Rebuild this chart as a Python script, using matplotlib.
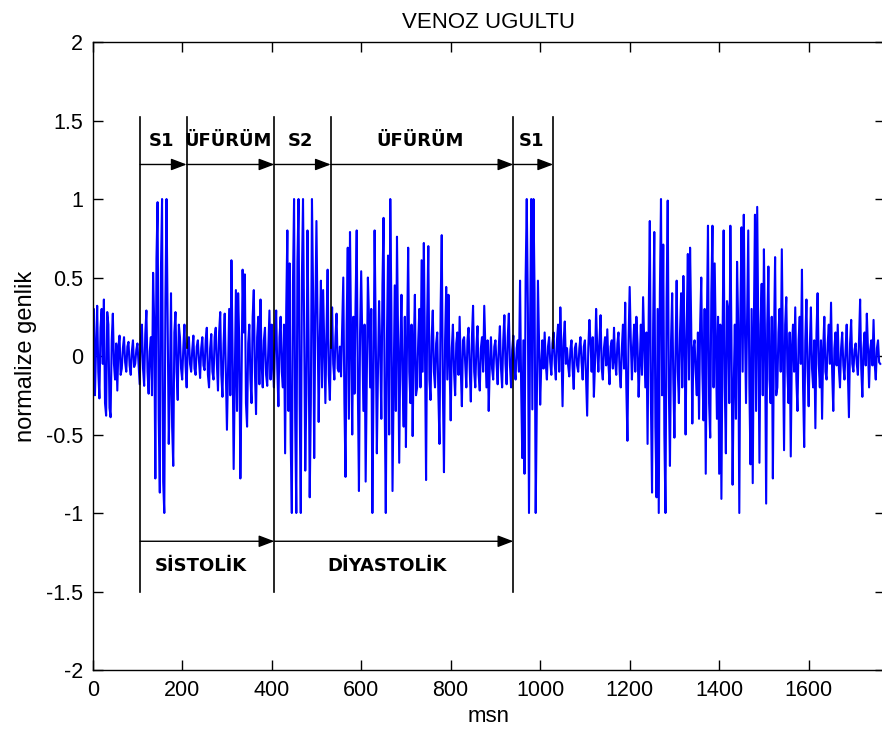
import matplotlib
matplotlib.use("Agg")
import matplotlib.pyplot as plt
import numpy as np
from matplotlib.ticker import FuncFormatter

# heart sound, one sample every 2.5 msn (rows of 100 msn)
STEP_MS = 2.5
signal = [
    0.10, 0.30, -0.25, 0.05, 0.32, -0.10, -0.27, 0.18, 0.30, -0.05, 0.36, -0.30, -0.38, 0.28, 0.20, -0.33, -0.39, 0.10, 0.27, -0.05,
    -0.15, 0.08, -0.22, 0.06, 0.13, -0.12, -0.08, 0.05, 0.12, -0.04, -0.10, 0.06, 0.09, -0.06, -0.12, 0.03, 0.10, -0.07, -0.05, 0.04,
    0.08, -0.05, -0.18, 0.10, 0.20, -0.08, -0.19, 0.14, 0.29, -0.10, -0.24, 0.03, 0.12, -0.25, 0.53, 0.20, -0.78, 0.62, 0.98, -0.40,
    -0.87, 0.55, 1.00, -0.80, -1.00, 0.35, 1.00, 0.25, -0.56, -0.20, 0.40, -0.45, -0.70, 0.15, 0.28, -0.10, -0.28, 0.20, 0.12, -0.08,
    -0.15, 0.05, 0.20, -0.06, -0.20, 0.08, 0.12, -0.05, -0.10, 0.04, 0.13, -0.08, -0.12, 0.06, 0.10, -0.03, -0.14, 0.05, 0.12, -0.06,
    -0.09, 0.10, 0.18, -0.12, -0.20, 0.05, 0.14, -0.10, -0.15, 0.12, 0.18, -0.05, -0.22, 0.15, 0.28, -0.12, -0.26, 0.08, 0.27, -0.10,
    -0.47, -0.10, 0.30, -0.25, 0.61, 0.05, -0.72, -0.15, 0.42, -0.35, 0.40, 0.10, -0.78, -0.20, 0.55, 0.15, 0.52, -0.30, -0.45, 0.08,
    0.20, -0.15, -0.30, 0.25, 0.42, -0.10, -0.37, 0.12, 0.25, -0.18, 0.36, -0.05, -0.20, 0.10, 0.18, -0.12, -0.19, 0.05, 0.29, -0.15,
    0.20, -0.05, -0.20, 0.10, 0.29, -0.08, -0.32, 0.12, 0.25, -0.10, -0.20, 0.20, -0.62, 0.30, 0.80, -0.35, 0.59, -0.55, -1.00, 0.45,
    1.00, -0.40, -1.00, 0.60, 1.00, -0.30, -1.00, 0.50, 1.00, 0.20, -0.73, -0.25, 0.80, 0.10, -0.90, -0.30, 1.00, 0.40, -0.65, 0.25,
    0.86, 0.20, -0.42, 0.10, 0.48, -0.20, 0.42, 0.05, -0.30, 0.15, 0.55, -0.12, -0.28, 0.10, 0.31, -0.05, -0.15, 0.12, 0.27, -0.08,
    -0.10, 0.06, -0.13, 0.20, 0.50, -0.30, -0.77, 0.20, 0.69, -0.40, 0.79, 0.10, -0.50, 0.25, -0.24, 0.35, 0.80, -0.20, -0.86, 0.15,
    0.54, 0.10, -0.35, 0.20, -0.80, -0.15, 0.50, 0.25, -0.20, 0.30, -1.00, -0.20, 0.80, 0.15, -0.62, -0.10, 0.35, 0.05, -0.40, 0.45,
    0.88, -0.30, -1.00, 0.10, 0.64, -0.50, 1.00, 0.30, -0.86, -0.20, 0.45, -0.35, 0.76, 0.10, -0.68, 0.05, 0.39, -0.15, -0.45, 0.25,
    -0.58, 0.10, 0.69, -0.10, -0.30, 0.20, -0.51, 0.05, 0.39, -0.25, -0.20, 0.10, 0.30, -0.20, 0.61, -0.10, 0.72, 0.05, -0.79, 0.25,
    0.70, -0.15, -0.28, 0.12, 0.29, -0.10, -0.20, 0.08, 0.15, -0.25, -0.56, 0.30, 0.77, -0.20, -0.74, 0.10, 0.44, -0.15, 0.39, -0.05,
    -0.41, 0.05, 0.20, -0.10, -0.25, 0.08, 0.15, -0.12, 0.25, -0.08, -0.32, 0.10, 0.12, -0.05, -0.20, 0.10, 0.18, -0.08, -0.29, 0.12,
    0.32, -0.10, -0.20, 0.06, 0.19, -0.12, -0.22, 0.05, 0.12, -0.10, 0.32, 0.05, -0.20, 0.10, -0.35, -0.05, 0.12, -0.08, -0.15, 0.06,
    0.10, -0.05, -0.18, 0.06, 0.19, -0.08, -0.20, 0.10, 0.26, -0.05, -0.18, 0.12, 0.27, -0.06, -0.20, 0.04, 0.13, -0.08, -0.15, 0.05,
    0.10, -0.10, 0.48, -0.20, -0.65, 0.10, -0.75, 0.50, 1.00, 0.30, -1.00, 0.20, 1.00, -0.34, 1.00, 0.40, -1.00, -0.30, 0.48, 0.10,
    -0.31, -0.05, 0.10, -0.08, 0.15, -0.05, -0.15, 0.06, 0.12, -0.04, -0.12, 0.08, 0.15, -0.05, -0.15, 0.10, 0.20, -0.10, 0.31, 0.05,
    -0.32, 0.10, 0.22, -0.05, 0.05, -0.06, -0.13, 0.04, 0.10, -0.08, -0.21, 0.05, 0.08, -0.06, -0.10, 0.05, 0.12, -0.04, -0.15, 0.06,
    0.10, -0.15, -0.38, 0.05, 0.23, 0.08, -0.10, 0.12, -0.26, -0.05, 0.30, 0.05, -0.10, 0.10, 0.26, -0.08, -0.15, 0.05, 0.12, -0.06,
    0.17, -0.05, -0.18, 0.06, 0.10, -0.08, 0.18, -0.04, -0.12, 0.08, 0.15, -0.10, -0.20, 0.05, 0.20, -0.08, 0.34, -0.20, -0.54, 0.10,
    0.44, 0.10, -0.15, 0.05, 0.20, -0.10, 0.25, 0.08, -0.26, -0.05, 0.20, -0.12, 0.375, 0.10, -0.20, 0.15, -0.56, 0.25, 0.86, -0.30,
    -0.87, 0.20, 0.79, -0.45, -0.90, 0.30, -1.00, 0.40, 1.00, -0.25, 0.71, -0.50, -1.00, 0.35, 0.99, -0.20, -0.70, 0.10, 0.40, -0.15,
    -0.52, 0.05, 0.48, -0.10, -0.30, 0.15, 0.40, -0.20, 0.51, 0.10, -0.50, 0.20, 0.65, -0.15, 0.69, 0.20, -0.43, 0.05, 0.10, -0.10,
    -0.25, 0.15, -0.40, 0.20, 0.50, -0.10, -0.41, 0.30, -0.75, 0.20, 0.83, -0.30, -0.52, 0.40, 0.83, -0.20, 0.59, 0.10, -0.40, 0.25,
    -0.75, 0.20, -0.91, 0.10, 0.80, -0.20, -0.62, 0.35, 0.30, -0.30, 0.83, 0.10, -0.82, -0.20, 0.20, -0.40, 0.60, 0.20, -1.00, 0.30,
    0.82, -0.10, 0.90, 0.20, -0.30, 0.25, 0.80, -0.20, -0.69, 0.30, -0.81, 0.20, 0.90, -0.35, 0.95, 0.10, -0.68, 0.20, 0.46, -0.25,
    0.68, 0.10, -0.94, 0.20, 0.57, -0.15, -0.30, 0.25, -0.78, 0.10, 0.63, -0.25, -0.20, 0.15, 0.30, -0.10, 0.68, 0.05, -0.60, 0.20,
    0.375, -0.10, -0.30, 0.15, -0.64, 0.05, 0.20, -0.10, 0.31, -0.15, -0.35, 0.10, 0.25, -0.05, 0.55, -0.20, -0.58, 0.10, 0.36, -0.08,
    -0.32, 0.05, 0.31, -0.08, -0.20, 0.10, -0.46, 0.15, 0.40, -0.05, -0.20, 0.10, -0.40, 0.05, 0.25, -0.10, -0.15, 0.08, 0.20, -0.05,
    0.34, -0.10, -0.35, 0.05, 0.15, -0.06, 0.20, -0.08, -0.20, 0.05, 0.15, -0.06, -0.15, 0.04, 0.20, -0.10, -0.39, 0.08, 0.23, -0.05,
    -0.10, 0.04, 0.08, -0.05, -0.12, 0.10, 0.36, -0.08, -0.26, 0.05, 0.15, -0.06, 0.27, 0.05, -0.20, 0.04, 0.10, -0.06, 0.23, -0.05,
    -0.15, 0.05, 0.10, -0.04, -0.05,
]

# phase boundaries in msn
full_marks = [106, 406, 940]     # S1 / S2 / next S1 onsets
short_marks = [210, 532, 1029]   # end of S1, S2, S1
top_edges = [106, 210, 406, 532, 940, 1029]
top_labels = ["S1", "ÜFÜRÜM", "S2", "ÜFÜRÜM", "S1"]
bottom_edges = [106, 406, 940]
bottom_labels = ["SİSTOLİK", "DİYASTOLİK"]

x_ticks = [0, 200, 400, 600, 800, 1000, 1200, 1400, 1600]
y_ticks = [-2, -1.5, -1, -0.5, 0, 0.5, 1, 1.5, 2]

plt.rcParams["axes.unicode_minus"] = False
plt.rcParams["font.family"] = ["Liberation Sans", "DejaVu Sans"]

fig = plt.figure(figsize=(8.82, 7.4), dpi=100)
ax = fig.add_axes([0.1051, 0.0946, 0.898, 0.8486])

t = np.arange(len(signal)) * STEP_MS
ax.plot(t, signal, color="#0000ff", linewidth=1.5)

line_kw = dict(color="black", linewidth=1.2)
for x in full_marks:
    ax.plot([x, x], [-1.5, 1.52], **line_kw)
for x in short_marks:
    ax.plot([x, x], [0.05, 1.52], **line_kw)


def arrow(x0, x1, y):
    ax.annotate("", xy=(x1, y), xytext=(x0, y),
                arrowprops=dict(arrowstyle="-|>,head_length=0.95,head_width=0.36",
                                mutation_scale=10, color="black", linewidth=1.0,
                                shrinkA=0, shrinkB=0))


bold = dict(fontsize=13, fontweight="bold", family="DejaVu Sans",
            ha="center", va="center")
for i, lab in enumerate(top_labels):
    x0, x1 = top_edges[i], top_edges[i + 1]
    arrow(x0, x1, 1.22)
    ax.text((x0 + x1) / 2 - 5, 1.37, lab, **bold)
for i, lab in enumerate(bottom_labels):
    x0, x1 = bottom_edges[i], bottom_edges[i + 1]
    arrow(x0, x1, -1.18)
    ax.text((x0 + x1) / 2 - 15, -1.34, lab, **bold)

ax.set_xlim(0, 1770)
ax.set_ylim(-2, 2)
ax.set_xticks(x_ticks)
ax.set_yticks(y_ticks)
ax.yaxis.set_major_formatter(FuncFormatter(lambda v, _: "%g" % v))
ax.tick_params(direction="in", top=True, right=True, length=7, width=1,
               labelsize=15.5, pad=7)
for sp in ax.spines.values():
    sp.set_linewidth(1.0)

ax.set_title("VENOZ UGULTU", fontsize=16, pad=10)
ax.set_xlabel("msn", fontsize=16, labelpad=4)
ax.set_ylabel("normalize genlik", fontsize=17, labelpad=6)

fig.savefig("out.png", dpi=100)
